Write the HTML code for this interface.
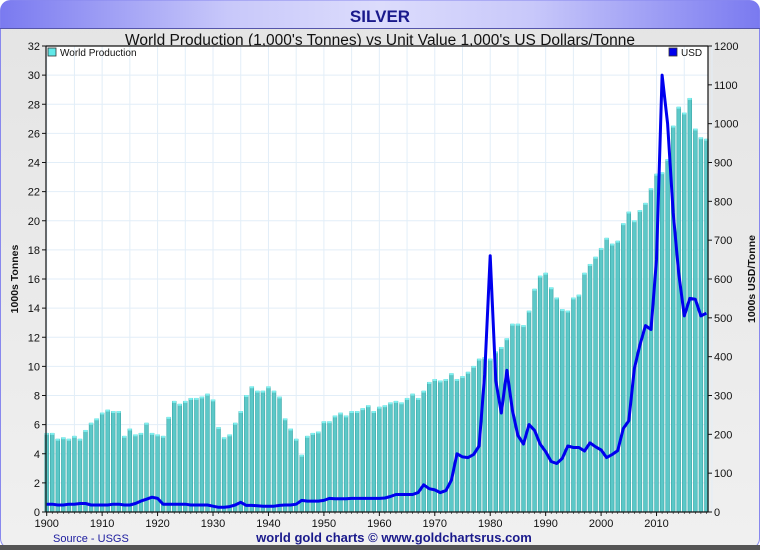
<!DOCTYPE html>
<html><head><meta charset="utf-8"><style>
body{margin:0;width:760px;height:550px;overflow:hidden;background:#fff;font-family:"Liberation Sans",sans-serif}
</style></head><body>
<svg id="c" width="760" height="550" xmlns="http://www.w3.org/2000/svg">
<defs>
<linearGradient id="tb" x1="0" x2="1" y1="0" y2="0">
<stop offset="0" stop-color="#7a7af0"/><stop offset="0.3" stop-color="#c8c8fa"/><stop offset="0.5" stop-color="#dcdcfc"/><stop offset="0.7" stop-color="#c8c8fa"/><stop offset="1" stop-color="#7a7af0"/></linearGradient>
<linearGradient id="bg" x1="0" x2="0" y1="0" y2="1"><stop offset="0" stop-color="#e4e4e4"/><stop offset="1" stop-color="#f0f0f0"/></linearGradient>
</defs>
<rect x="0.5" y="0.5" width="759" height="548" rx="10" fill="url(#bg)" stroke="#8888ee"/>
<path d="M0.5,28 L0.5,11 Q0.5,0.5 11,0.5 L749,0.5 Q759.5,0.5 759.5,11 L759.5,28 Z" fill="url(#tb)"/>
<line x1="0" y1="28.5" x2="760" y2="28.5" stroke="#5555aa" stroke-width="1"/>
<rect x="0" y="545" width="760" height="5" fill="#555"/>
<text x="380" y="22" text-anchor="middle" font-size="17" font-weight="bold" fill="#1a1a8c">SILVER</text>
<text x="380" y="45" text-anchor="middle" font-size="15.5" fill="#111">World Production (1,000's Tonnes) vs Unit Value 1,000's US Dollars/Tonne</text>
<rect x="46" y="46" width="662" height="466" fill="#fff"/>
<g id="grid"></g><g id="bars"></g><g id="line"></g><g id="axes"></g>
<rect x="48" y="48" width="8" height="8" fill="#60e8e8" stroke="#333" stroke-width="0.8"/>
<text x="60" y="56" font-size="10" fill="#111">World Production</text>
<rect x="669" y="48" width="8" height="8" fill="#0000ee" stroke="#333" stroke-width="0.8"/>
<text x="681" y="56" font-size="10" fill="#111">USD</text>
<text transform="translate(18,279) rotate(-90)" text-anchor="middle" font-size="10.5" font-weight="bold" fill="#111">1000s Tonnes</text>
<text transform="translate(755,279) rotate(-90)" text-anchor="middle" font-size="10.5" font-weight="bold" fill="#111">1000s USD/Tonne</text>
<text x="53" y="542" font-size="11" fill="#2020a0">Source - USGS</text>
<text x="394" y="542" text-anchor="middle" font-size="13" font-weight="bold" fill="#1a1a8c">world gold charts © www.goldchartsrus.com</text>
</svg>
<script>
const years=[];for(let y=1900;y<=2019;y++)years.push(y);
const production=[5.4,5.4,5.0,5.1,5.0,5.2,5.0,5.6,6.1,6.4,6.8,7.0,6.9,6.9,5.2,5.7,5.3,5.4,6.1,5.4,5.3,5.2,6.5,7.6,7.4,7.6,7.8,7.8,7.9,8.1,7.7,5.8,5.1,5.3,6.1,6.9,8.0,8.6,8.3,8.3,8.6,8.3,7.9,6.4,5.7,5.0,3.9,5.2,5.4,5.5,6.2,6.2,6.6,6.8,6.6,6.9,6.9,7.1,7.3,6.9,7.2,7.3,7.5,7.6,7.5,7.8,8.1,7.8,8.3,8.9,9.1,9.0,9.1,9.5,9.1,9.3,9.6,10.0,10.5,10.6,10.5,11.0,11.3,11.9,12.9,12.9,12.8,13.8,15.3,16.2,16.4,15.4,14.7,13.9,13.8,14.7,14.9,16.4,17.0,17.5,18.1,18.8,18.4,18.6,19.8,20.6,20.0,20.7,21.2,22.2,23.2,23.3,24.2,26.5,27.8,27.4,28.4,26.3,25.7,25.6];
const usd=[20,20,18,18,20,20,22,22,18,18,18,18,20,20,18,18,22,28,33,38,35,20,20,20,20,20,18,18,18,18,15,12,12,14,18,25,17,17,16,15,15,15,17,18,18,20,30,28,28,28,30,35,34,34,34,35,35,35,35,35,35,36,40,45,45,45,45,50,70,60,57,50,55,82,150,142,140,148,170,355,660,338,255,365,262,197,175,225,210,175,155,130,125,138,170,166,166,157,178,168,160,140,148,158,215,235,370,430,480,470,650,1125,1000,770,615,505,550,548,505,512];
const leftTicks=[0,2,4,6,8,10,12,14,16,18,20,22,24,26,28,30,32];
const rightTicks=[0,100,200,300,400,500,600,700,800,900,1000,1100,1200];
const xTicks=[1900,1910,1920,1930,1940,1950,1960,1970,1980,1990,2000,2010];
const L=46,R=708,T=46,B=512;
const X=y=>46.7+(y-1900)*5.544;
const YL=v=>B-(v/32)*(B-T);
const YR=v=>B-(v/1200)*(B-T);
const NS='http://www.w3.org/2000/svg';
function mk(tag,attrs,parent){const e=document.createElementNS(NS,tag);for(const k in attrs)e.setAttribute(k,attrs[k]);document.getElementById(parent).appendChild(e);return e;}
for(let y=1900;y<=2020;y+=5){const g=mk('line',{x1:X(y),x2:X(y),y1:T,y2:B,stroke:'#e2eef8','stroke-width':1},'grid');

}
leftTicks.forEach(v=>{const g=mk('line',{x1:L,x2:R,y1:YL(v),y2:YL(v),stroke:'#e2eef8','stroke-width':1},'grid');

});
years.forEach((y,i)=>{const v=production[i];const x=X(y);
const b=mk('rect',{x:x-1.9,y:YL(v),width:3.8,height:B-YL(v),fill:'#5cc8c8',stroke:'#3aa6a6','stroke-width':0.6},'bars');


const c=mk('rect',{x:x-1.9,y:YL(v)-0.5,width:3.8,height:2,fill:'#7ff0f0'},'bars');

});
const pts=years.map((y,i)=>X(y).toFixed(1)+','+YR(usd[i]).toFixed(1)).join(' ');
const pl=mk('polyline',{points:pts,fill:'none',stroke:'#0000ee','stroke-width':3,'stroke-linejoin':'round'},'line');


const ax=[['line',{x1:L,x2:L,y1:T,y2:B}],['line',{x1:R,x2:R,y1:T,y2:B}],['line',{x1:L,x2:R,y1:B,y2:B}],['line',{x1:L,x2:R,y1:T,y2:T}]];
ax.forEach(a=>{const e=mk(a[0],Object.assign({stroke:'#111','stroke-width':1.2},a[1]),'axes');

});
leftTicks.forEach(v=>{const y=YL(v);mk('line',{x1:L-4,x2:L,y1:y,y2:y,stroke:'#111'},'axes');
const t=mk('text',{x:L-6,y:y+4,'text-anchor':'end','font-size':11,fill:'#111'},'axes');t.textContent=v;

});
rightTicks.forEach(v=>{const y=YR(v);mk('line',{x1:R,x2:R+4,y1:y,y2:y,stroke:'#111'},'axes');
const t=mk('text',{x:R+6,y:y+4,'font-size':11,fill:'#111'},'axes');t.textContent=v;

});
xTicks.forEach(v=>{const x=X(v);mk('line',{x1:x,x2:x,y1:B,y2:B+4,stroke:'#111'},'axes');
const t=mk('text',{x:x,y:B+15,'text-anchor':'middle','font-size':11,fill:'#111'},'axes');t.textContent=v;

});
for(let y=1900;y<=2019;y++){mk('line',{x1:X(y),x2:X(y),y1:B,y2:B+2,stroke:'#111','stroke-width':0.6},'axes');}
</script>
</body></html>
